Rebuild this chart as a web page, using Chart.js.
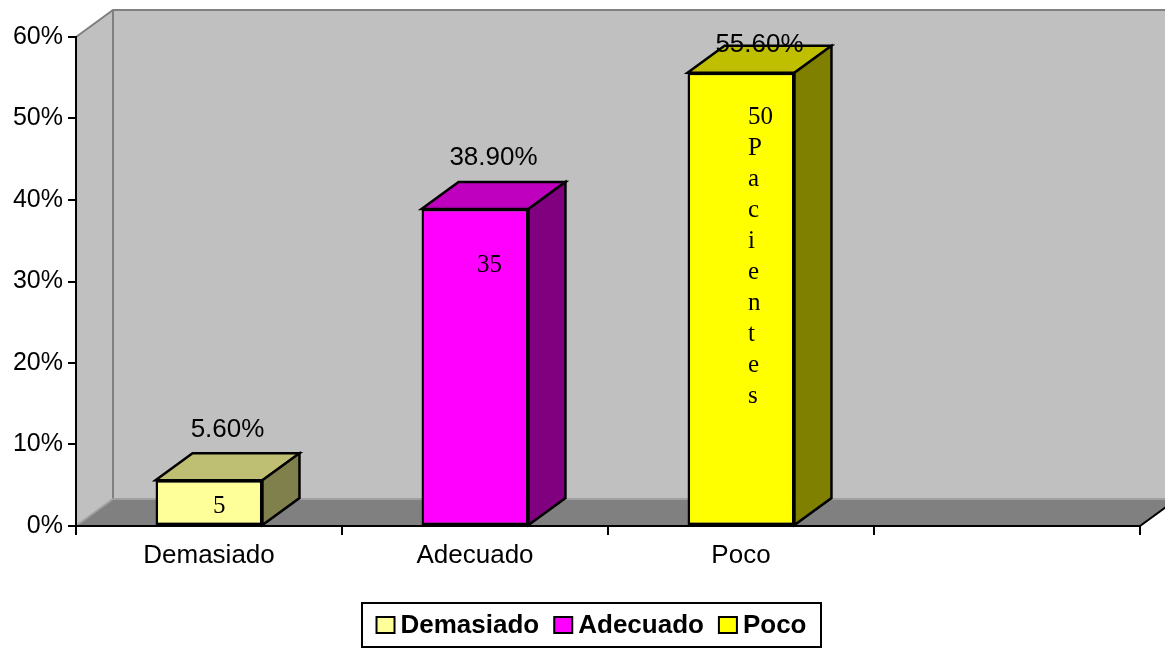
<!DOCTYPE html>
<html>
<head>
<meta charset="utf-8">
<script src="https://cdn.jsdelivr.net/npm/chart.js@4"></script>
<style>
  html, body { margin: 0; padding: 0; background: #fff; }
  canvas { display: block; }
</style>
</head>
<body>
<canvas id="chart" width="1165" height="648"></canvas>
<script>
// categories (last slot left empty, as in the axis)
const categories = ["Demasiado", "Adecuado", "Poco", ""];
const shares = [0.056, 0.389, 0.556, null];
const counts = [5, 35, 50];
const countNotes = ["", "", "Pacientes"];
const yTicks = [0, 0.1, 0.2, 0.3, 0.4, 0.5, 0.6];
const frontColors = ["#FFFF99", "#FF00FF", "#FFFF00"];
const legendNames = ["Demasiado", "Adecuado", "Poco"];

// depth of the fake 3d box
const DX = 37, DY = 27;
const SANS = '"Liberation Sans", Arial, sans-serif';
const SERIF = '"Liberation Serif", "Times New Roman", serif';

function shade(hex, k) {
  const n = parseInt(hex.slice(1), 16);
  const r = Math.round(((n >> 16) & 255) * k);
  const g = Math.round(((n >> 8) & 255) * k);
  const b = Math.round((n & 255) * k);
  return `rgb(${r},${g},${b})`;
}

function poly(ctx, pts, fill, stroke, lw) {
  ctx.beginPath();
  ctx.moveTo(pts[0][0], pts[0][1]);
  for (let i = 1; i < pts.length; i++) ctx.lineTo(pts[i][0], pts[i][1]);
  ctx.closePath();
  if (fill) { ctx.fillStyle = fill; ctx.fill(); }
  if (stroke) { ctx.strokeStyle = stroke; ctx.lineWidth = lw || 2; ctx.stroke(); }
}

// walls and floor behind everything
const walls = {
  id: "walls",
  beforeDraw(chart) {
    const { ctx } = chart;
    const { left, right, top, bottom } = chart.chartArea;
    ctx.save();
    ctx.lineJoin = "miter";
    // side wall
    poly(ctx, [[left, bottom], [left, top], [left + DX, top - DY], [left + DX, bottom - DY]], "#C0C0C0");
    // back wall
    poly(ctx, [[left + DX, top - DY], [right + DX, top - DY], [right + DX, bottom - DY], [left + DX, bottom - DY]], "#C0C0C0");
    // floor
    poly(ctx, [[left, bottom], [right, bottom], [right + DX, bottom - DY], [left + DX, bottom - DY]], "#808080");

    ctx.strokeStyle = "#808080";
    ctx.lineWidth = 2;
    ctx.beginPath();
    ctx.moveTo(left, top);
    ctx.lineTo(left + DX, top - DY);
    ctx.lineTo(right + DX, top - DY);
    ctx.moveTo(left + DX, top - DY);
    ctx.lineTo(left + DX, bottom - DY);
    ctx.stroke();

    ctx.strokeStyle = "#A0A0A0";
    ctx.beginPath();
    ctx.moveTo(left, bottom);
    ctx.lineTo(left + DX, bottom - DY);
    ctx.lineTo(right + DX, bottom - DY);
    ctx.stroke();

    ctx.strokeStyle = "#000";
    ctx.beginPath();
    ctx.moveTo(right, bottom);
    ctx.lineTo(right + DX, bottom - DY);
    ctx.stroke();
    ctx.restore();
  }
};

// tops, sides and labels of the bars
const bars3d = {
  id: "bars3d",
  afterDatasetsDraw(chart, args, opts) {
    const { ctx } = chart;
    const area = chart.chartArea;
    const meta = chart.getDatasetMeta(0);
    ctx.save();
    ctx.lineJoin = "miter";
    meta.data.forEach((bar, i) => {
      if (shares[i] == null) return;
      const { x, y, base, width } = bar.getProps(["x", "y", "base", "width"], true);
      const l = x - width / 2, r = x + width / 2;
      const c = frontColors[i];
      poly(ctx, [[l, y], [r, y], [r + DX, y - DY], [l + DX, y - DY]], shade(c, 0.75), "#000", 2.5);
      poly(ctx, [[r, y], [r + DX, y - DY], [r + DX, base - DY], [r, base]], shade(c, 0.5), "#000", 2.5);

      // percent label over the bar
      ctx.fillStyle = "#000";
      ctx.font = "26px " + SANS;
      ctx.textAlign = "center";
      ctx.textBaseline = "middle";
      const txt = (shares[i] * 100).toFixed(2) + "%";
      ctx.fillText(txt, x + DX / 2, Math.max(y - DY - 24, area.top + 8));

      // patient count inside the bar
      const lines = [String(counts[i])].concat(countNotes[i].split(""));
      ctx.font = "25px " + SERIF;
      ctx.textAlign = "left";
      const y0 = y + opts.drops[i];
      lines.forEach((s, k) => ctx.fillText(s, x + opts.shift[i], y0 + k * 31));
    });
    ctx.restore();
  }
};

// boxed legend below the axis
const boxLegend = {
  id: "boxLegend",
  afterDraw(chart) {
    const { ctx } = chart;
    const bx = 362, by = 603, bw = 459, bh = 44;
    ctx.save();
    ctx.font = "bold 26px " + SANS;
    const sq = 18, gapText = 6, gapItem = 15;
    const widths = legendNames.map(n => ctx.measureText(n).width);
    const total = widths.reduce((s, w) => s + sq + gapText + w, 0) + gapItem * (legendNames.length - 1);
    let cx = bx + (bw - total) / 2;
    const cy = by + bh / 2;
    ctx.textBaseline = "middle";
    ctx.textAlign = "left";
    legendNames.forEach((n, i) => {
      ctx.fillStyle = frontColors[i];
      ctx.fillRect(cx, cy - 8, sq, 16);
      ctx.strokeStyle = "#000";
      ctx.lineWidth = 2;
      ctx.strokeRect(cx, cy - 8, sq, 16);
      ctx.fillStyle = "#000";
      ctx.fillText(n, cx + sq + gapText, cy + 1);
      cx += sq + gapText + widths[i] + gapItem;
    });
    ctx.strokeStyle = "#000";
    ctx.lineWidth = 2;
    ctx.strokeRect(bx, by, bw, bh);
    ctx.restore();
  }
};

new Chart(document.getElementById("chart"), {
  type: "bar",
  data: {
    labels: categories,
    datasets: [{
      data: shares,
      backgroundColor: frontColors,
      borderColor: "#000",
      borderWidth: 2.5,
      borderSkipped: false,
      barPercentage: 0.402,
      categoryPercentage: 1
    }]
  },
  options: {
    responsive: false,
    animation: false,
    layout: { padding: { top: 37, right: 25, bottom: 72, left: 0 } },
    plugins: {
      legend: { display: false },
      tooltip: { enabled: false },
      bars3d: { drops: [26, 56, 45], shift: [4, 2, 7] }
    },
    scales: {
      x: {
        offset: true,
        grid: { offset: true, drawOnChartArea: false, color: "#000", lineWidth: 2, tickLength: 9 },
        border: { color: "#000", width: 2 },
        ticks: { color: "#000", font: { family: SANS, size: 26 }, padding: 5, maxRotation: 0 },
        afterFit(scale) { scale.height = 50; }
      },
      y: {
        min: 0,
        max: 0.6,
        grid: { drawOnChartArea: false, color: "#000", lineWidth: 2, tickLength: 8 },
        border: { color: "#000", width: 2 },
        afterBuildTicks(scale) { scale.ticks = yTicks.map(v => ({ value: v })); },
        ticks: {
          color: "#000",
          font: { family: SANS, size: 25 },
          padding: 5,
          callback: v => Math.round(v * 100) + "%"
        },
        afterFit(scale) { scale.width = 76; }
      }
    }
  },
  plugins: [walls, bars3d, boxLegend]
});
</script>
</body>
</html>
